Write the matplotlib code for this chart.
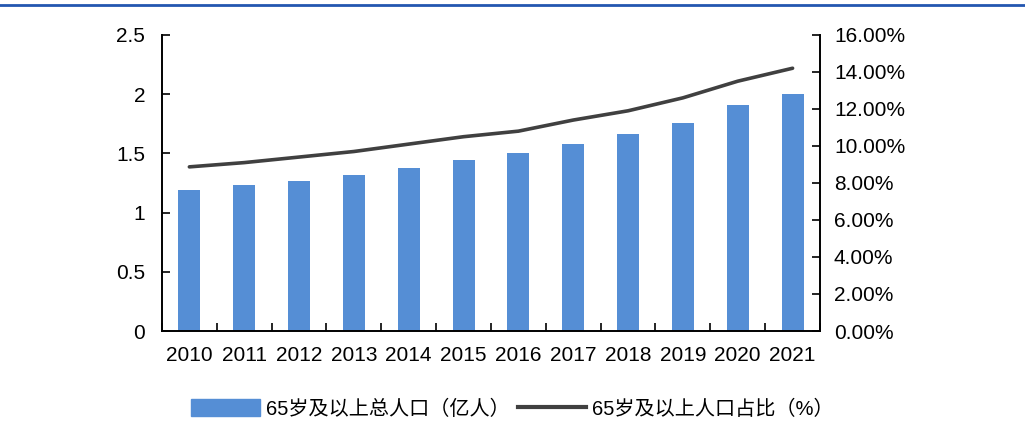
import matplotlib
matplotlib.use('Agg')
import matplotlib.pyplot as plt
from matplotlib.lines import Line2D
from matplotlib.ticker import FuncFormatter, FixedLocator

plt.rcParams['font.family'] = ['Liberation Sans', 'Noto Sans CJK SC', 'DejaVu Sans']

# 数据
years = ['2010', '2011', '2012', '2013', '2014', '2015',
         '2016', '2017', '2018', '2019', '2020', '2021']
pop_65 = [1.19, 1.23, 1.27, 1.32, 1.38, 1.44, 1.50, 1.58, 1.66, 1.76, 1.91, 2.00]
share_65 = [8.87, 9.1, 9.4, 9.7, 10.1, 10.5, 10.8, 11.4, 11.9, 12.6, 13.5, 14.2]

bar_label = '65岁及以上总人口（亿人）'
line_label = '65岁及以上人口占比（%）'

fig = plt.figure(figsize=(10.25, 4.26), dpi=100)
ax = fig.add_axes([0.158, 0.223, 0.642, 0.695])
ax2 = ax.twinx()

x = list(range(len(years)))
ax.bar(x, pop_65, width=0.4, color='#558ED5', zorder=2)
ax2.plot(x, share_65, color='#404040', lw=2.6, solid_capstyle='round', zorder=3)

ax.set_xlim(-0.5, len(years) - 0.5)
ax.set_ylim(0, 2.5)
ax.set_yticks([0, 0.5, 1, 1.5, 2, 2.5])
ax.set_yticklabels(['0', '0.5', '1', '1.5', '2', '2.5'])
ax2.set_ylim(0, 16)
ax2.set_yticks(range(0, 17, 2))
ax2.yaxis.set_major_formatter(FuncFormatter(lambda v, p: f'{v:.2f}%'))

ax.set_xticks(x)
ax.set_xticklabels(years)
ax.xaxis.set_minor_locator(FixedLocator([i + 0.5 for i in range(-1, len(years))]))
ax.tick_params(axis='x', which='major', length=0, pad=11, labelsize=15)
ax.tick_params(axis='x', which='minor', direction='in', length=6, width=1.2)
ax.tick_params(axis='y', direction='in', length=6, width=1.2, labelsize=15, pad=12)
ax2.tick_params(axis='y', direction='in', length=6, width=1.2, labelsize=15, pad=10)

for a in (ax, ax2):
    a.spines['top'].set_visible(False)
    for s in ('left', 'right', 'bottom'):
        a.spines[s].set_linewidth(1.4)
ax.spines['right'].set_visible(False)
ax2.spines['left'].set_visible(False)
ax2.spines['bottom'].set_visible(False)

# 顶部蓝线
fig.add_artist(Line2D([0, 1], [0.988, 0.988], color='#2356B0', lw=2, transform=fig.transFigure))

handles = [plt.Rectangle((0, 0), 1, 1, color='#558ED5'),
           Line2D([0], [0], color='#404040', lw=3)]
fig.legend(handles, [bar_label, line_label], loc='center', bbox_to_anchor=(0.5, 0.04),
           ncol=2, frameon=False, fontsize=14.5, handlelength=3.4, handleheight=0.9,
           handletextpad=0.3, columnspacing=0.4)

plt.savefig('out.png', dpi=100)
plt.close()
